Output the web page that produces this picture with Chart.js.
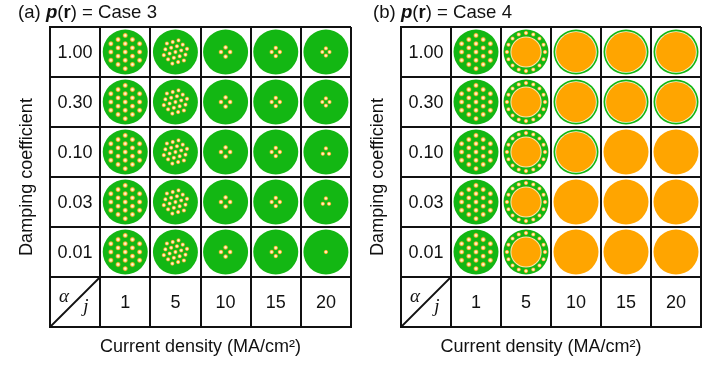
<!DOCTYPE html>
<html>
<head>
<meta charset="utf-8">
<script src="https://cdn.jsdelivr.net/npm/chart.js@4.4.1/dist/chart.umd.min.js"></script>
<style>
  html, body { margin: 0; padding: 0; background: #fff; }
  #wrap { position: relative; width: 722px; height: 366px; }
  canvas { position: absolute; top: 0; }
  #chartA { left: 0; }
  #chartB { left: 361px; }
</style>
</head>
<body>
<div id="wrap">
  <canvas id="chartA" width="361" height="366"></canvas>
  <canvas id="chartB" width="361" height="366"></canvas>
</div>
<script>
// Table rows (damping coefficient) and columns (current density)
const alphas = ['1.00', '0.30', '0.10', '0.03', '0.01'];
const currents = ['1', '5', '10', '15', '20'];

// Case 3: skyrmion count in each snapshot (rows = alpha, cols = j)
const case3Kinds = [
  ['lattice', 'lattice', 'lattice', 'lattice', 'lattice'],
  ['lattice', 'lattice', 'lattice', 'lattice', 'lattice'],
  ['lattice', 'lattice', 'lattice', 'lattice', 'lattice'],
  ['lattice', 'lattice', 'lattice', 'lattice', 'lattice'],
  ['lattice', 'lattice', 'lattice', 'lattice', 'lattice']
];
const case3Dots = [
  [19, 19, 4, 4, 4],
  [19, 19, 4, 4, 4],
  [19, 19, 4, 4, 3],
  [19, 19, 4, 4, 3],
  [19, 19, 4, 4, 1]
];

// Case 4: state of each snapshot
const case4Kinds = [
  ['lattice', 'ring', 'shell', 'shell', 'shell'],
  ['lattice', 'ring', 'shell', 'shell', 'shell'],
  ['lattice', 'ring', 'shell', 'core', 'core'],
  ['lattice', 'ring', 'core', 'core', 'core'],
  ['lattice', 'ring', 'core', 'core', 'core']
];
const case4Dots = [
  [19, 16, 0, 0, 0],
  [19, 16, 0, 0, 0],
  [19, 16, 0, 0, 0],
  [19, 16, 0, 0, 0],
  [19, 16, 0, 0, 0]
];

const FONT = "'Liberation Sans', Arial, sans-serif";
const GREEN = '#13b713';
const ORANGE = '#ffa500';
const LINE = '#111';
const DISK_R = 22.5;
// spacing of the dot pattern per column (pixels) and dot size
const spread = [8.3, 6.0, 4.6, 4.1, 3.6];
const dotSize = [2.7, 2.3, 2.5, 2.4, 2.3];

function dotOffsets(n, s) {
  if (n <= 0) return [];
  if (n === 1) return [[0, 0]];
  if (n === 3) return [-90, 30, 150].map(a => [s * Math.cos(a * Math.PI / 180), s * Math.sin(a * Math.PI / 180)]);
  if (n === 4) return [[0, -s], [s, 0], [0, s], [-s, 0]];
  // hexagonal lattice, closest n sites
  const pts = [];
  for (let i = -4; i <= 4; i++) {
    for (let k = -4; k <= 4; k++) {
      pts.push([i * s * Math.sqrt(3) / 2, (k + i / 2) * s]);
    }
  }
  pts.sort((a, b) => (a[0] * a[0] + a[1] * a[1]) - (b[0] * b[0] + b[1] * b[1]));
  return pts.slice(0, n);
}

function drawDot(ctx, x, y, r) {
  const g = ctx.createRadialGradient(x, y, 0, x, y, r);
  g.addColorStop(0, '#fffcee');
  g.addColorStop(0.35, '#fff0b0');
  g.addColorStop(0.7, '#f6b43a');
  g.addColorStop(1, 'rgba(140,180,30,0.6)');
  ctx.fillStyle = g;
  ctx.beginPath();
  ctx.arc(x, y, r, 0, Math.PI * 2);
  ctx.fill();
}

function disk(ctx, x, y, r, color) {
  ctx.fillStyle = color;
  ctx.beginPath();
  ctx.arc(x, y, r, 0, Math.PI * 2);
  ctx.fill();
}

// draws the inner structure of every snapshot on top of the base disk
const snapshotPlugin = {
  id: 'snapshots',
  afterDatasetsDraw(chart) {
    const ctx = chart.ctx;
    const meta = chart.getDatasetMeta(0);
    ctx.save();
    meta.data.forEach((pt, i) => {
      const raw = chart.data.datasets[0].data[i];
      const { x, y } = pt.getProps(['x', 'y'], true);
      if (raw.kind === 'lattice') {
        const rot = raw.col === 1 ? 0.26 : 0;
        const c = Math.cos(rot), s = Math.sin(rot);
        dotOffsets(raw.n, spread[raw.col]).forEach(([dx, dy]) => {
          drawDot(ctx, x + dx * c - dy * s, y + dx * s + dy * c, dotSize[raw.col]);
        });
      } else if (raw.kind === 'ring') {
        for (let k = 0; k < raw.n; k++) {
          const a = (k / raw.n) * Math.PI * 2 - Math.PI / 2;
          drawDot(ctx, x + 19 * Math.cos(a), y + 19 * Math.sin(a), 2.3);
        }
        disk(ctx, x, y, 15.6, '#fbe7b0');
        disk(ctx, x, y, 14.6, ORANGE);
      } else if (raw.kind === 'shell') {
        disk(ctx, x, y, 20.8, '#f6f3da');
        disk(ctx, x, y, 19.9, ORANGE);
      }
    });
    ctx.restore();
  }
};

// writes the table labels inside the first column and the last row
const tablePlugin = {
  id: 'tableText',
  afterDraw(chart) {
    const { ctx, chartArea } = chart;
    const xs = chart.scales.x, ys = chart.scales.y;
    ctx.save();
    ctx.fillStyle = LINE;
    ctx.font = '18px ' + FONT;
    ctx.textAlign = 'center';
    ctx.textBaseline = 'middle';
    alphas.forEach((a, i) => ctx.fillText(a, xs.getPixelForValue(0), ys.getPixelForValue(i) + 1));
    currents.forEach((j, i) => ctx.fillText(j, xs.getPixelForValue(i + 1), ys.getPixelForValue(alphas.length) + 1));
    // corner cell with diagonal
    const xEdge = (xs.getPixelForValue(0) + xs.getPixelForValue(1)) / 2;
    const yEdge = (ys.getPixelForValue(alphas.length - 1) + ys.getPixelForValue(alphas.length)) / 2;
    ctx.strokeStyle = LINE;
    ctx.lineWidth = 1.8;
    ctx.beginPath();
    ctx.moveTo(chartArea.left, chartArea.bottom);
    ctx.lineTo(xEdge, yEdge);
    ctx.stroke();
    ctx.font = "italic 19px 'Liberation Serif', 'Times New Roman', serif";
    ctx.fillText('\u03b1', chartArea.left + 14, yEdge + 20);
    ctx.fillText('j', chartArea.left + 36, yEdge + 30);
    ctx.restore();
  }
};

// panel heading: (a) p(r) = Case 3
const headingPlugin = {
  id: 'heading',
  afterDraw(chart, args, opts) {
    const ctx = chart.ctx;
    const parts = [
      [opts.tag + ' ', ''],
      ['p', 'italic bold '],
      ['(', ''],
      ['r', 'bold '],
      [') = ' + opts.text, '']
    ];
    ctx.save();
    ctx.fillStyle = LINE;
    ctx.textBaseline = 'alphabetic';
    let x = opts.x;
    parts.forEach(([t, style]) => {
      ctx.font = style + '18.6px ' + FONT;
      ctx.fillText(t, x, 18);
      x += ctx.measureText(t).width;
    });
    ctx.restore();
  }
};

function makePanel(id, tag, text, kinds, dots, geo) {
  const points = [];
  alphas.forEach((a, r) => {
    currents.forEach((j, c) => {
      points.push({ x: j, y: a, kind: kinds[r][c], n: dots[r][c], col: c });
    });
  });
  const axisTitle = (t, pad) => ({
    display: true, text: t, color: LINE,
    font: { family: FONT, size: 18 }, padding: pad
  });
  const gridOpts = { offset: true, color: LINE, lineWidth: 2, drawTicks: false };
  return new Chart(document.getElementById(id), {
    type: 'scatter',
    data: {
      datasets: [{
        data: points,
        pointRadius: DISK_R,
        pointHoverRadius: DISK_R,
        pointBorderWidth: 0,
        pointBackgroundColor: ctx => (ctx.raw && ctx.raw.kind === 'core') ? ORANGE : GREEN
      }]
    },
    options: {
      responsive: false,
      animation: false,
      events: [],
      layout: { padding: geo.padding, autoPadding: false },
      plugins: {
        legend: { display: false },
        tooltip: { enabled: false },
        heading: { tag: tag, text: text, x: geo.headX }
      },
      scales: {
        x: {
          type: 'category',
          labels: [''].concat(currents),
          offset: true,
          grid: gridOpts,
          border: { color: LINE, width: 2 },
          ticks: { display: false },
          title: axisTitle('Current density (MA/cm\u00b2)' + geo.xTail, geo.xPad)
        },
        y: {
          type: 'category',
          labels: alphas.concat(['']),
          offset: true,
          grid: gridOpts,
          border: { color: LINE, width: 2 },
          ticks: { display: false },
          title: axisTitle('Damping coefficient', geo.yPad)
        }
      }
    },
    plugins: [snapshotPlugin, tablePlugin, headingPlugin]
  });
}

makePanel('chartA', '(a)', 'Case 3', case3Kinds, case3Dots, {
  padding: { left: 6, right: 10, top: 27, bottom: 3 },
  xPad: { top: 9.7, bottom: 4.7 },
  yPad: { top: 10.2, bottom: 12.2 },
  headX: 18,
  xTail: ''
});
makePanel('chartB', '(b)', 'Case 4', case4Kinds, case4Dots, {
  padding: { left: 2, right: 21, top: 27, bottom: 3 },
  xPad: { top: 9.7, bottom: 4.7 },
  yPad: { top: 4, bottom: 12.4 },
  headX: 12,
  xTail: '\u00a0\u00a0\u00a0\u00a0'
});
</script>
</body>
</html>
